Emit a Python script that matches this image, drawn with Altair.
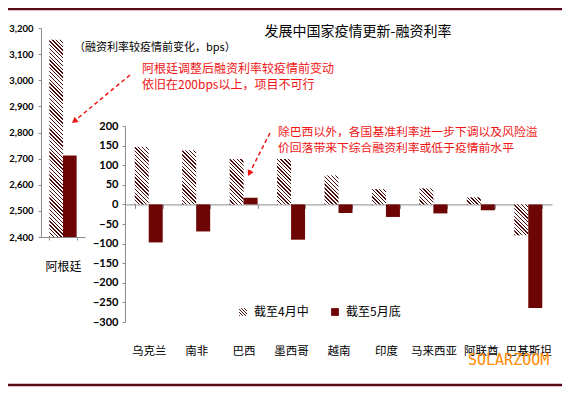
import json
import math
import altair as alt
import pandas as pd

# ---------------- data ----------------
countries = ["乌克兰", "南非", "巴西", "墨西哥", "越南", "印度", "马来西亚", "阿联酋", "巴基斯坦"]
apr_mid = [147, 138, 116, 116, 74, 39, 41, 18, -79]
may_end = [-97, -69, 17, -90, -22, -32, -23, -15, -264]
arg_name = ["阿根廷"]
arg_apr = [3155]
arg_may = [2712]
series = ["截至4月中", "截至5月底"]
left_ticks = list(range(2400, 3201, 100))
right_ticks = list(range(-300, 201, 50))

title_text = "发展中国家疫情更新-融资利率"
subtitle_text = "（融资利率较疫情前变化，bps）"
note1 = ["阿根廷调整后融资利率较疫情前变动", "依旧在200bps以上，项目不可行"]
note2 = ["除巴西以外，各国基准利率进一步下调以及风险溢", "价回落带来下综合融资利率或低于疫情前水平"]
watermark = "SOLARZOOM"

# ---------------- layout / style ----------------
W, H = 511, 294
LX, LY = [0, 44], [209, 0]
RX, RY = [84, 511], [294, 98]
L_DOM = [2400, 3200]
R_DOM = [-300, 200]
PI_R, PI_L = 0.41, 0.38
CJK = "Noto Sans CJK SC"
NUM = "Lato"
AX = "#8c8c8c"
MAY = "#6e0505"
HATCH = "#4a0c0c"
RED = "#f01414"

# pixel helpers for the hatch gradients (derived from the scales above)
step_r = (RX[1] - RX[0]) / len(countries)
bar_w_r = step_r * (1 - PI_R) / 2
px_r = (RY[0] - RY[1]) / (R_DOM[1] - R_DOM[0])
bar_w_l = (LX[1] - LX[0]) * (1 - PI_L) / 2
px_l = (LY[0] - LY[1]) / (L_DOM[1] - L_DOM[0])
zero_off = -(RY[0] - (RY[1] + R_DOM[1] * px_r))


def hatch(w, h, period=3.8, frac=0.36):
    lam = (w + h) / (w * w + h * h)
    n = max(1, round((w + h) / period))
    stops = []
    for k in range(n):
        a, b, c = k / n, (k + frac) / n, (k + 1) / n
        stops += [
            {"offset": round(a, 5), "color": HATCH},
            {"offset": round(b, 5), "color": HATCH},
            {"offset": round(b, 5), "color": "#ffffff"},
            {"offset": round(c, 5), "color": "#ffffff"},
        ]
    return {"gradient": "linear", "x1": 0, "y1": 1,
            "x2": round(lam * w, 6), "y2": round(1 - lam * h, 6), "stops": stops}


legend_grad = "(" + json.dumps(hatch(8, 8, period=3.2)) + ")"

df_r = pd.DataFrame({
    "country": countries * 2,
    "series": [series[0]] * len(countries) + [series[1]] * len(countries),
    "value": apr_mid + may_end,
})
df_l = pd.DataFrame({"country": arg_name * 2, "series": series, "value": arg_apr + arg_may})
df_c = pd.DataFrame({"country": countries})
one = pd.DataFrame({"a": [0]})

num_axis = dict(title=None, grid=False, labelFont=NUM, labelFontWeight="bold",
                labelColor="#000000", domainColor=AX, tickColor=AX)

# ---------------- right panel ----------------
xr = alt.X("country:N",
           scale=alt.Scale(domain=countries, range=RX, paddingInner=PI_R, paddingOuter=PI_R / 2),
           axis=alt.Axis(orient="bottom", offset=zero_off, labels=False, ticks=True,
                         tickBand="extent", tickSize=4, domainColor=AX, tickColor=AX,
                         title=None, grid=False))
xo = alt.XOffset("series:N", scale=alt.Scale(domain=series, paddingInner=0, paddingOuter=0))
yr = alt.Y("value:Q", scale=alt.Scale(domain=R_DOM, range=RY, nice=False),
           axis=alt.Axis(orient="left", offset=-RX[0], values=right_ticks, format="d",
                         tickSize=3, labelPadding=4, labelFontSize=11, **num_axis))

right_layers = []
for c, v in zip(countries, apr_mid):
    right_layers.append(
        alt.Chart(df_r)
        .transform_filter((alt.datum.country == c) & (alt.datum.series == series[0]))
        .mark_bar(fill=hatch(bar_w_r, abs(v) * px_r), strokeWidth=0)
        .encode(x=xr, xOffset=xo, y=yr, y2=alt.datum(0))
    )
right_layers.append(
    alt.Chart(df_r)
    .transform_filter(alt.datum.series == series[1])
    .mark_bar(strokeWidth=0)
    .encode(
        x=xr, xOffset=xo, y=yr, y2=alt.datum(0),
        color=alt.Color("series:N",
                        scale=alt.Scale(domain=series, range=[{"expr": legend_grad}, MAY]),
                        legend=alt.Legend(orient="none", legendX=196, legendY=278,
                                          direction="horizontal", title=None,
                                          symbolType="square", symbolSize=60,
                                          symbolStrokeWidth=0, labelFont=CJK,
                                          labelFontSize=12, labelColor="#000000",
                                          columnPadding=20, symbolOffset=0, labelOffset=5)),
    )
)
right = alt.layer(*right_layers)

# ---------------- left panel (Argentina) ----------------
xl = alt.X("country:N",
           scale=alt.Scale(domain=arg_name, range=LX, paddingInner=PI_L, paddingOuter=PI_L / 2),
           axis=alt.Axis(orient="bottom", offset=-(H - LY[0]), tickBand="extent", tickSize=3,
                         labelPadding=21, labelAngle=0, labelFont=CJK, labelFontSize=12,
                         labelColor="#000000", domainColor=AX, tickColor=AX, title=None,
                         grid=False))
xol = alt.XOffset("series:N", scale=alt.Scale(domain=series, paddingInner=0, paddingOuter=0))
yl = alt.Y("value:Q", scale=alt.Scale(domain=L_DOM, range=LY, nice=False),
           axis=alt.Axis(orient="left", values=left_ticks, format=",.0f", tickSize=3,
                         labelPadding=5, labelFontSize=9.5, **num_axis))

left = alt.layer(
    alt.Chart(df_l).transform_filter(alt.datum.series == series[0])
    .mark_bar(fill=hatch(bar_w_l, (arg_apr[0] - L_DOM[0]) * px_l), strokeWidth=0)
    .encode(x=xl, xOffset=xol, y=yl, y2=alt.datum(L_DOM[0])),
    alt.Chart(df_l).transform_filter(alt.datum.series == series[1])
    .mark_bar(color=MAY, strokeWidth=0)
    .encode(x=xl, xOffset=xol, y=yl, y2=alt.datum(L_DOM[0])),
)

# ---------------- category labels (bottom axis) ----------------
labels = alt.Chart(df_c).mark_text(opacity=0).encode(
    x=alt.X("country:N",
            scale=alt.Scale(domain=countries, range=RX, paddingInner=PI_R, paddingOuter=PI_R / 2),
            axis=alt.Axis(orient="bottom", domain=False, ticks=False, tickSize=0,
                          labelPadding=23, labelAngle=0, labelFont=CJK, labelFontSize=11.5,
                          labelColor="#000000", title=None, grid=False)),
    text=alt.value(""),
)

# ---------------- annotations ----------------
def txt(t, x, y, size=12, color="#000000", align="left", font=CJK, weight="normal"):
    return alt.Chart(one).mark_text(text=t, align=align, baseline="middle", fontSize=size,
                                    color=color, font=font, fontWeight=weight).encode(
        x=alt.value(x), y=alt.value(y))


def arrow(x1, y1, x2, y2, angle):
    dx, dy = x2 - x1, y2 - y1
    L = math.hypot(dx, dy)
    ux, uy = dx / L, dy / L
    line = alt.Chart(one).mark_rule(color=RED, strokeWidth=1.5, strokeDash=[4, 3]).encode(
        x=alt.value(x1), y=alt.value(y1), x2=alt.value(x2 - ux * 4), y2=alt.value(y2 - uy * 4))
    head = alt.Chart(one).mark_point(shape="triangle-up", filled=True, size=45, color=RED,
                                     opacity=1, angle=angle).encode(
        x=alt.value(x2 - ux * 3), y=alt.value(y2 - uy * 3))
    return [line, head]


annots = [
    txt(title_text, 317, 4, size=14, align="center"),
    txt(subtitle_text, 33, 20, size=11),
    txt(note1[0], 101, 41, color=RED),
    txt(note1[1], 101, 57, color=RED),
    txt(note2[0], 237, 104, size=11.8, color=RED),
    txt(note2[1], 237, 120, size=11.8, color=RED),
    txt(watermark, 427, 332, size=15, color="#ff8a00", font="DejaVu Sans Mono"),
]
annots += arrow(89, 47, 31, 95, 231.8)
annots += arrow(229, 105, 207, 148, 207)

borders = [
    alt.Chart(one).mark_rule(color="#5a0a14", strokeWidth=2.5).encode(
        x=alt.value(-33), x2=alt.value(W + 10), y=alt.value(-19)),
    alt.Chart(one).mark_rule(color="#5a0a14", strokeWidth=2.5).encode(
        x=alt.value(-33), x2=alt.value(W + 10), y=alt.value(H + 63)),
]

chart = (
    alt.layer(left, right, labels, *annots, *borders)
    .resolve_scale(x="independent", y="independent", xOffset="independent")
    .resolve_axis(x="independent", y="independent")
    .properties(width=W, height=H, autosize=alt.AutoSizeParams(type="none"),
                padding={"left": 33, "top": 20, "right": 10, "bottom": 65},
                background="#ffffff")
    .configure_view(stroke=None)
)

chart.save("out.html", embed_options={"renderer": "svg", "actions": False})
